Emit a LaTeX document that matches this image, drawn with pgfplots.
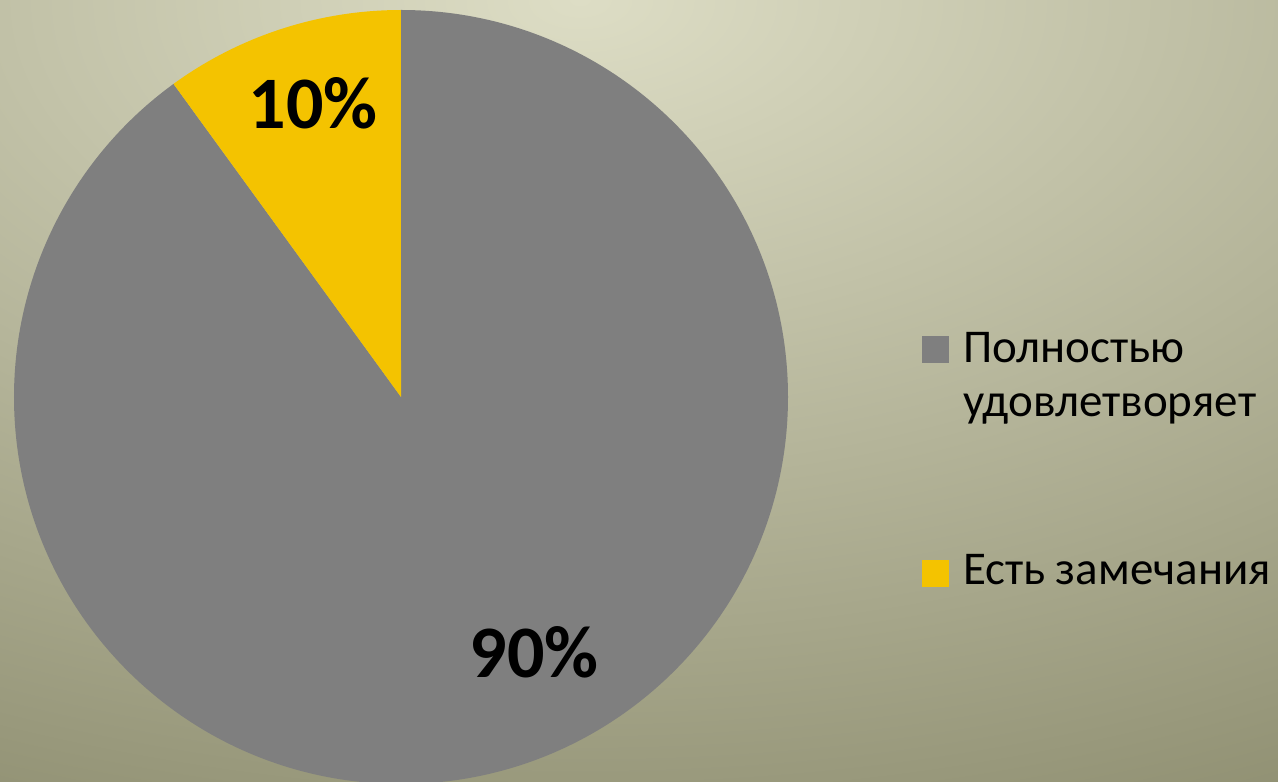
\documentclass[border=0pt]{standalone}
\usepackage{fontspec}
\setmainfont{Carlito}
\usepackage{pgfplots}
\usepackage{pgfplotstable}
\pgfplotsset{compat=1.18}

\definecolor{slicegray}{HTML}{7F7F7F}
\definecolor{sliceyellow}{HTML}{F4C300}
\definecolor{bgtop}{HTML}{DDDDC5}
\definecolor{bgbottom}{HTML}{8B8B6D}

% share of answers, in percent
\pgfplotstableread{
value
90
10
}\piedata

\begin{document}
\begin{tikzpicture}[x=1pt,y=1pt]
  \useasboundingbox (0,0) rectangle (1278,782);
  \clip (0,0) rectangle (1278,782);
  \shade[inner color=bgtop, outer color=bgbottom]
    (580-1700,782-950) rectangle (580+1700,782+950);

  \pgfplotstablegetelem{0}{value}\of\piedata \let\va\pgfplotsretval
  \pgfplotstablegetelem{1}{value}\of\piedata \let\vb\pgfplotsretval
  \pgfmathsetmacro\tot{\va+\vb}
  \pgfmathsetmacro\aA{90-360*(\va/\tot)}
  \pgfmathsetmacro\aB{\aA-360*(\vb/\tot)}

  \begin{axis}[
    at={(401pt,385pt)}, anchor=center,
    width=774pt, height=774pt, scale only axis,
    xmin=-1, xmax=1, ymin=-1, ymax=1,
    hide axis, clip=false,
  ]
    \fill[slicegray] (axis cs:0,0) -- (axis cs:0,1)
      arc[start angle=90, end angle=\aA, radius=387pt] -- cycle;
    \fill[sliceyellow] (axis cs:0,0) -- (axis cs:{cos(\aA)},{sin(\aA)})
      arc[start angle=\aA, end angle=\aB, radius=387pt] -- cycle;
    \node[font=\fontsize{74}{80}\selectfont\bfseries] at (axis cs:0.344,-0.659)
      {\pgfmathprintnumber[assume math mode=true]{\va}\%};
    \node[font=\fontsize{74}{80}\selectfont\bfseries] at (axis cs:-0.227,0.760)
      {\pgfmathprintnumber[assume math mode=true]{\vb}\%};
  \end{axis}

  % legend
  \fill[slicegray] (922,419) rectangle (949,446);
  \fill[sliceyellow] (922,195) rectangle (949,222);
  \begin{scope}[every node/.style={anchor=base west, inner sep=0pt,
      font=\fontsize{47}{56}\selectfont}]
    \node at (963,419) {Полностью};
    \node at (963,365) {удовлетворяет};
    \node at (963,197) {Есть замечания};
  \end{scope}
\end{tikzpicture}
\end{document}
